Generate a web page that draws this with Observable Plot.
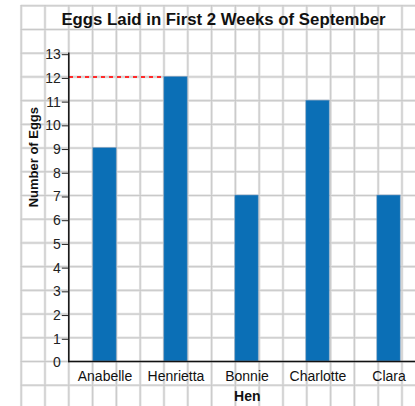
<!DOCTYPE html>
<html>
<head>
<meta charset="utf-8">
<script src="https://cdn.jsdelivr.net/npm/d3@7"></script>
<script src="https://cdn.jsdelivr.net/npm/@observablehq/plot@0.6"></script>
<style>
  html, body { margin: 0; padding: 0; background: #fff; }
  #wrap { position: relative; width: 415px; height: 406px; overflow: hidden; }
  #wrap svg { position: absolute; left: 0; top: 0; }
</style>
</head>
<body>
<div id="wrap"></div>
<script>
// ---- data ----
const hens = ["Anabelle", "Henrietta", "Bonnie", "Charlotte", "Clara"];
const eggs = [9, 12, 7, 11, 7];
const yTicks = [0, 1, 2, 3, 4, 5, 6, 7, 8, 9, 10, 11, 12, 13];
const title = "Eggs Laid in First 2 Weeks of September";
const xLabel = "Hen";
const yLabel = "Number of Eggs";
// graph-paper background lines (in cell units / egg units)
const gridX = d3.range(-2, 15);
const gridY = d3.range(-1, 16);

const table = hens.map((h, i) => ({hen: h, eggs: eggs[i]}));
const maxRow = table.reduce((a, b) => (b.eggs > a.eggs ? b : a));

const W = 415, H = 406;
const X0 = 68.3, CELL = 23.8;
const yRange = [361, 52.7];
const font = "'Liberation Sans', Arial, Helvetica, sans-serif";

// ---- background graph paper ----
const grid = Plot.plot({
  width: W, height: H,
  marginLeft: 20.7, marginTop: 5, marginRight: 0, marginBottom: 0,
  x: {type: "linear", domain: [0, 15], range: [X0, X0 + 15 * CELL], axis: null},
  y: {type: "linear", domain: [0, 13], range: yRange, axis: null},
  style: {background: "transparent"},
  marks: [
    Plot.ruleX(gridX, {stroke: "#e4e4e4", strokeWidth: 2.6}),
    Plot.ruleY(gridY, {stroke: "#e4e4e4", strokeWidth: 2.6}),
    Plot.ruleX(gridX, {stroke: "#c9c9c9", strokeWidth: 1}),
    Plot.ruleY(gridY, {stroke: "#c9c9c9", strokeWidth: 1})
  ]
});

// ---- chart ----
const bw = 3 * CELL;
const chart = Plot.plot({
  width: W, height: H,
  marginLeft: X0, marginTop: yRange[1], marginRight: W - (X0 + 5 * bw), marginBottom: H - yRange[0],
  x: {type: "band", domain: hens, range: [X0, X0 + 5 * bw], padding: 0, axis: null},
  y: {type: "linear", domain: [0, 13], range: yRange, axis: null},
  style: {background: "transparent", fontFamily: font, color: "#1a1a1a", overflow: "visible"},
  marks: [
    Plot.barY(table, {x: "hen", y: "eggs", fill: "#0b6fb6", stroke: "#7f9fbf", strokeWidth: 0.6,
      insetLeft: CELL, insetRight: CELL}),
    Plot.ruleY([maxRow], {y: "eggs", x1: () => hens[0], x2: "hen",
      insetRight: 2 * CELL, stroke: "#ff2a2a", strokeWidth: 2, strokeDasharray: "4,4"}),
    Plot.axisY(yTicks.filter(d => d > 0), {
      tickSize: 6.5, tickPadding: 1.5, fontSize: 14, label: null, stroke: "#222", fill: "#222", dy: 1.5
    }),
    Plot.axisY([0], {tickSize: 0, tickPadding: 8, fontSize: 14, label: null, fill: "#222", dy: 1.5}),
    Plot.axisX({tickSize: 0, tickPadding: 9.5, fontSize: 14, label: null, fill: "#111"}),
    Plot.text([xLabel], {frameAnchor: "bottom", dy: 39.5, fontWeight: "bold", fontSize: 14, fill: "#111"}),
    Plot.text([yLabel], {frameAnchor: "left", dx: -35, rotate: -90, fontWeight: "bold", fontSize: 13, fill: "#111"}),
    Plot.text([title], {frameAnchor: "top", dx: 223 - (X0 + 2.5 * bw), dy: -40, fontWeight: "bold", fontSize: 16.8, fill: "#111"})
  ]
});

// axis lines drawn with the frame's own edges
const axes = Plot.plot({
  width: W, height: H,
  marginLeft: X0, marginTop: yRange[1], marginRight: 0, marginBottom: H - yRange[0],
  x: {axis: null}, y: {axis: null},
  style: {background: "transparent"},
  marks: [
    Plot.frame({anchor: "left", stroke: "#111", strokeWidth: 1.5}),
    Plot.frame({anchor: "bottom", stroke: "#111", strokeWidth: 1.5})
  ]
});

const wrap = document.getElementById("wrap");
wrap.append(grid, chart, axes);
</script>
</body>
</html>
